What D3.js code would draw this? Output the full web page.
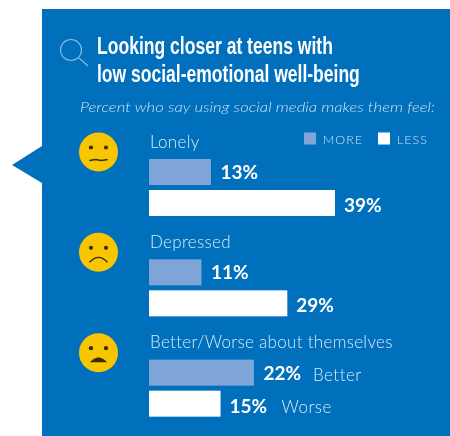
<!DOCTYPE html>
<html>
<head>
<meta charset="utf-8">
<script src="https://cdn.jsdelivr.net/npm/d3@7"></script>
<style>
  html, body { margin: 0; padding: 0; background: #fff; }
  svg { display: block; }
  text { font-family: "Lato", "Open Sans", sans-serif; fill: #fff; }
</style>
</head>
<body>
<div id="chart"></div>
<script>
// values
const categories = ["Lonely", "Depressed", "Better/Worse about themselves"];
const moreValues = [13, 11, 22];
const lessValues = [39, 29, 15];
const moreNotes = ["", "", "Better"];
const lessNotes = ["", "", "Worse"];
const faces = ["flat", "sad", "upset"];
const legendLabels = ["MORE", "LESS"];

const width = 450, height = 436;
const blue = "#0070bd", moreColor = "#7fa5d8", yellow = "#f7c600";

const svg = d3.select("#chart").append("svg")
  .attr("width", width)
  .attr("height", height);

// the source is a soft, low-res scan, a little blur gets closer to it
const defs = svg.append("defs");
defs.append("filter").attr("id", "soft")
  .attr("x", "-5%").attr("y", "-5%").attr("width", "110%").attr("height", "110%")
  .append("feGaussianBlur").attr("stdDeviation", 0.6);

const g = svg.append("g").attr("filter", "url(#soft)");

// panel with the pointer on the left
g.append("rect")
  .attr("x", 42).attr("y", 9)
  .attr("width", 420).attr("height", 440)
  .attr("fill", blue);
g.append("path")
  .attr("d", "M42,146L12,165L42,183Z")
  .attr("fill", blue);

// magnifier
const lens = g.append("g")
  .attr("fill", "none")
  .attr("stroke", "#8fbbdf")
  .attr("stroke-width", 1.1);
lens.append("circle").attr("cx", 71).attr("cy", 50).attr("r", 10.5);
lens.append("line").attr("x1", 79).attr("y1", 58).attr("x2", 88).attr("y2", 66);

// heading, squeezed sideways to the condensed look of the original
const titleFont = "'Liberation Sans', sans-serif";
const drawTitle = function (label, tx, ty, targetWidth) {
  const t = g.append("text")
    .style("font-family", titleFont)
    .style("font-size", "24px").style("font-weight", 700)
    .text(label);
  const k = targetWidth / t.node().getComputedTextLength();
  t.attr("transform", `translate(${tx},${ty}) scale(${k},1)`);
};
drawTitle("Looking closer at teens with", 97, 53.5, 236);
drawTitle("low social-emotional well-being", 97, 81.5, 263);

g.append("text")
  .attr("x", 80).attr("y", 112)
  .attr("textLength", 355).attr("lengthAdjust", "spacingAndGlyphs")
  .style("font-size", "14.5px").style("font-style", "italic").style("font-weight", 300)
  .attr("opacity", 0.8)
  .text("Percent who say using social media makes them feel:");

// legend
const legendX = d3.scaleOrdinal().domain(legendLabels).range([304, 378]);
const legendColor = d3.scaleOrdinal().domain(legendLabels).range([moreColor, "#fff"]);
const legendWidth = d3.scaleOrdinal().domain(legendLabels).range([39, 30]);
legendLabels.forEach(function (d) {
  g.append("rect")
    .attr("x", legendX(d)).attr("y", 132.5)
    .attr("width", 12).attr("height", 12)
    .attr("fill", legendColor(d));
  g.append("text")
    .attr("x", legendX(d) + 19).attr("y", 144)
    .attr("textLength", legendWidth(d))
    .style("font-size", "12.5px").style("font-weight", 300)
    .attr("opacity", 0.8)
    .text(d);
});

// bars
const x = d3.scaleLinear().domain([0, 39]).range([149, 335]);
const y = d3.scaleBand().domain(categories).range([133, 434]).paddingInner(0).paddingOuter(0);
const rowTop = function (d) { return y(d) + 26; };

const rows = categories.map(function (c, i) {
  return { name: c, more: moreValues[i], less: lessValues[i],
    moreNote: moreNotes[i], lessNote: lessNotes[i], face: faces[i] };
});

const row = g.selectAll(".row").data(rows).join("g").attr("class", "row");

row.append("text")
  .attr("x", 150)
  .attr("y", function (d) { return y(d.name) + 14.5; })
  .attr("opacity", 0.85)
  .style("font-size", "17px").style("font-weight", 300)
  .style("letter-spacing", "0.3px")
  .text(function (d) { return d.name; });

row.append("rect")
  .attr("x", x(0))
  .attr("y", function (d) { return rowTop(d.name); })
  .attr("width", function (d) { return x(d.more) - x(0); })
  .attr("height", 26)
  .attr("fill", moreColor);

row.append("rect")
  .attr("x", x(0))
  .attr("y", function (d) { return rowTop(d.name) + 31; })
  .attr("width", function (d) { return x(d.less) - x(0); })
  .attr("height", 26)
  .attr("fill", "#fff");

row.append("text")
  .attr("x", function (d) { return x(d.more) + 9.5; })
  .attr("y", function (d) { return rowTop(d.name) + 20; })
  .style("font-size", "19px").style("font-weight", 700)
  .text(function (d) { return d.more + "%"; });

row.append("text")
  .attr("x", function (d) { return x(d.less) + 9; })
  .attr("y", function (d) { return rowTop(d.name) + 53; })
  .style("font-size", "19px").style("font-weight", 700)
  .text(function (d) { return d.less + "%"; });

row.append("text")
  .attr("x", function (d) { return x(d.more) + 59; })
  .attr("y", function (d) { return rowTop(d.name) + 21; })
  .attr("opacity", 0.85)
  .style("font-size", "17px").style("font-weight", 300)
  .style("letter-spacing", "0.5px")
  .text(function (d) { return d.moreNote; });

row.append("text")
  .attr("x", function (d) { return x(d.less) + 61; })
  .attr("y", function (d) { return rowTop(d.name) + 53; })
  .attr("opacity", 0.85)
  .style("font-size", "17px").style("font-weight", 300)
  .style("letter-spacing", "0.5px")
  .text(function (d) { return d.lessNote; });

// faces
const face = row.append("g")
  .attr("transform", function (d) { return `translate(98.5,${y(d.name) + 19})`; });

face.append("circle").attr("r", 19.5).attr("fill", yellow);
face.append("circle").attr("cx", -7.5).attr("cy", -4.5).attr("r", 2.1).attr("fill", "#3a2c08");
face.append("circle").attr("cx", 7.5).attr("cy", -4.5).attr("r", 2.1).attr("fill", "#3a2c08");
face.append("path")
  .attr("d", function (d) {
    if (d.face === "flat") return "M-9,8.5L-3,7.5L3,8.5L9,7.5";
    if (d.face === "sad") return "M-9,10Q0,0 9,10";
    return "M-7,9Q0,2 7,9Z";
  })
  .attr("fill", function (d) { return d.face === "upset" ? "#3a2c08" : "none"; })
  .attr("stroke", "#3a2c08")
  .attr("stroke-width", 1.4);
</script>
</body>
</html>
